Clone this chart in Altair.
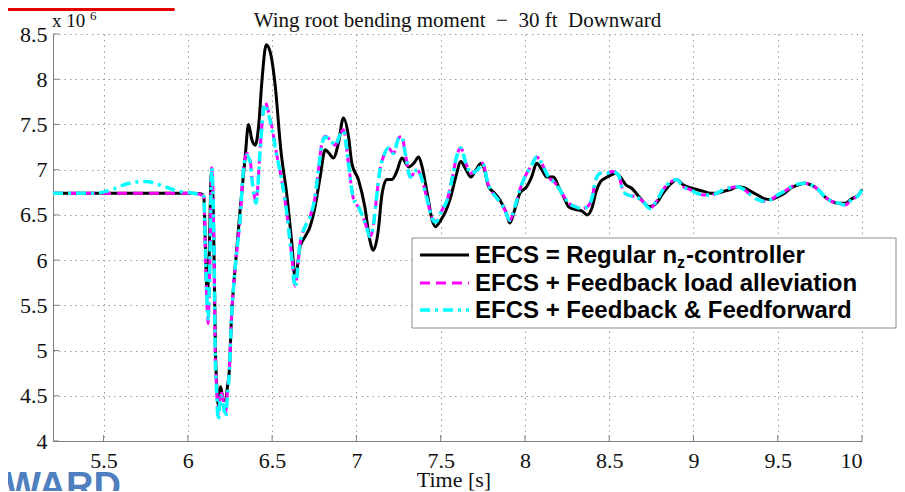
import altair as alt
import pandas as pd

# ---- data (values in units of 10^6) ----
t_black = [5.2, 6.03, 6.08, 6.095, 6.105, 6.115, 6.125, 6.14, 6.152, 6.158, 6.164, 6.172, 6.18, 6.195, 6.21,
           6.225, 6.235, 6.245, 6.26, 6.28, 6.31, 6.34, 6.36, 6.38, 6.40, 6.42, 6.44, 6.465, 6.49, 6.52, 6.55,
           6.59, 6.617, 6.637, 6.666, 6.696, 6.725, 6.755, 6.785, 6.815, 6.834, 6.864, 6.893, 6.923, 6.953,
           6.973, 7.012, 7.05, 7.08, 7.10, 7.13, 7.15, 7.18, 7.21, 7.24, 7.27, 7.31, 7.34, 7.37, 7.39, 7.42,
           7.45, 7.47, 7.50, 7.53, 7.56, 7.59, 7.62, 7.65, 7.68, 7.71, 7.74, 7.755, 7.785, 7.82, 7.85, 7.89,
           7.91, 7.94, 7.97, 8.01, 8.04, 8.07, 8.10, 8.13, 8.17, 8.20, 8.23, 8.26, 8.30, 8.34, 8.37, 8.40,
           8.42, 8.45, 8.48, 8.51, 8.54, 8.57, 8.60, 8.63, 8.66, 8.70, 8.74, 8.78, 8.82, 8.87, 8.90, 8.94,
           8.98, 9.02, 9.06, 9.10, 9.14, 9.18, 9.22, 9.26, 9.30, 9.34, 9.38, 9.42, 9.46, 9.50, 9.54, 9.58,
           9.62, 9.66, 9.70, 9.74, 9.78, 9.82, 9.86, 9.90, 9.94, 9.98, 10.0]
v_black = [6.74, 6.74, 6.73, 6.70, 6.10, 5.60, 5.95, 6.97, 6.45, 5.74, 5.00, 4.60, 4.40, 4.60, 4.45,
           4.45, 4.60, 4.75, 5.40, 5.90, 6.55, 7.14, 7.50, 7.33, 7.27, 7.48, 7.99, 8.38, 8.29, 7.90, 7.25,
           6.68, 6.19, 5.80, 6.15, 6.26, 6.37, 6.59, 6.92, 7.22, 7.19, 7.13, 7.29, 7.57, 7.37,
           7.07, 6.89, 6.59, 6.22, 6.11, 6.33, 6.70, 6.89, 6.89, 6.98, 7.13, 7.03, 7.07, 7.14, 7.03, 6.74,
           6.44, 6.37, 6.44, 6.54, 6.70, 6.92, 7.09, 7.00, 6.92, 7.00, 7.07, 7.03, 6.81, 6.74, 6.67, 6.52,
           6.41, 6.56, 6.74, 6.81, 6.92, 7.07, 7.00, 6.92, 6.92, 6.81, 6.70, 6.59, 6.56, 6.54, 6.50, 6.59,
           6.74, 6.87, 6.91, 6.94, 6.96, 6.91, 6.83, 6.80, 6.74, 6.65, 6.59, 6.63, 6.74, 6.85, 6.89, 6.83,
           6.80, 6.78, 6.76, 6.74, 6.74, 6.76, 6.78, 6.81, 6.80, 6.76, 6.72, 6.68, 6.67, 6.70, 6.74, 6.80,
           6.83, 6.85, 6.83, 6.78, 6.70, 6.65, 6.63, 6.63, 6.68, 6.72, 6.78]

t_mag = [5.2, 6.03, 6.08, 6.095, 6.105, 6.115, 6.12, 6.13, 6.142, 6.152, 6.158, 6.162, 6.172, 6.18, 6.195,
         6.21, 6.225, 6.235, 6.245, 6.26, 6.28, 6.31, 6.33, 6.35, 6.37, 6.38, 6.405, 6.43, 6.45, 6.455, 6.49,
         6.53, 6.557, 6.587, 6.617, 6.637, 6.666, 6.696, 6.725, 6.755, 6.775, 6.795, 6.815, 6.845, 6.874,
         6.904, 6.923, 6.953, 6.98, 7.02, 7.06, 7.08, 7.10, 7.12, 7.14, 7.16, 7.19, 7.22, 7.25, 7.27, 7.29,
         7.32, 7.36, 7.39, 7.42, 7.45, 7.47, 7.51, 7.54, 7.57, 7.60, 7.62, 7.65, 7.68, 7.72, 7.75, 7.78,
         7.81, 7.84, 7.88, 7.91, 7.94, 7.97, 8.00, 8.04, 8.07, 8.10, 8.14, 8.18, 8.22, 8.26, 8.30, 8.34,
         8.37, 8.40, 8.42, 8.45, 8.485, 8.52, 8.555, 8.58, 8.61, 8.66, 8.70, 8.74, 8.78, 8.82, 8.87, 8.90,
         8.94, 8.98, 9.02, 9.06, 9.10, 9.14, 9.18, 9.22, 9.26, 9.30, 9.34, 9.38, 9.42, 9.46, 9.50, 9.54,
         9.58, 9.62, 9.66, 9.70, 9.74, 9.78, 9.82, 9.86, 9.90, 9.94, 9.98, 10.0]
v_mag = [6.74, 6.74, 6.72, 6.70, 6.00, 5.45, 5.30, 5.90, 7.02, 6.48, 5.74, 5.00, 4.55, 4.30, 4.55,
         4.45, 4.32, 4.55, 4.75, 5.40, 5.90, 6.45, 7.00, 7.18, 7.11, 6.92, 6.65, 7.26, 7.70, 7.75, 7.55,
         7.14, 6.89, 6.52, 6.04, 5.71, 6.19, 6.37, 6.48, 6.70, 7.00, 7.29, 7.37, 7.33, 7.27,
         7.40, 7.44, 7.07, 6.70, 6.56, 6.37, 6.26, 6.37, 6.70, 7.00, 7.14, 7.24, 7.18, 7.35, 7.37, 7.18,
         6.92, 7.00, 6.89, 6.67, 6.46, 6.43, 6.56, 6.67, 6.92, 7.18, 7.24, 7.07, 6.96, 7.00, 7.07, 6.85,
         6.74, 6.67, 6.56, 6.44, 6.59, 6.78, 6.92, 7.05, 7.14, 7.07, 6.92, 6.85, 6.74, 6.63, 6.59, 6.57,
         6.59, 6.70, 6.89, 6.96, 6.96, 6.98, 6.94, 6.78, 6.72, 6.70, 6.65, 6.57, 6.65, 6.78, 6.87, 6.89,
         6.81, 6.78, 6.74, 6.72, 6.72, 6.74, 6.78, 6.80, 6.81, 6.78, 6.72, 6.67, 6.65, 6.67, 6.72, 6.76,
         6.81, 6.84, 6.85, 6.83, 6.78, 6.70, 6.65, 6.63, 6.61, 6.67, 6.72, 6.78]

t_cyan = [5.2, 5.45, 5.55, 5.65, 5.75, 5.85, 5.95, 6.03, 6.08, 6.095, 6.105, 6.115, 6.12, 6.13, 6.142,
          6.152, 6.158, 6.162, 6.172, 6.18, 6.195, 6.21, 6.225, 6.235, 6.245, 6.26, 6.28, 6.31, 6.33, 6.35,
          6.37, 6.38, 6.405, 6.43, 6.45, 6.455, 6.49, 6.53, 6.557, 6.587, 6.617, 6.637, 6.666, 6.696, 6.725,
          6.755, 6.775, 6.795, 6.815, 6.845, 6.874, 6.904, 6.923, 6.953, 6.98, 7.02, 7.06, 7.08, 7.10, 7.12,
          7.14, 7.16, 7.19, 7.22, 7.25, 7.27, 7.29, 7.32, 7.36, 7.39, 7.42, 7.45, 7.47, 7.51, 7.54, 7.57,
          7.60, 7.62, 7.65, 7.68, 7.72, 7.75, 7.78, 7.81, 7.84, 7.88, 7.91, 7.94, 7.97, 8.00, 8.04, 8.07,
          8.10, 8.14, 8.18, 8.22, 8.26, 8.30, 8.34, 8.37, 8.40, 8.42, 8.45, 8.485, 8.52, 8.555, 8.58, 8.61,
          8.66, 8.70, 8.74, 8.78, 8.82, 8.87, 8.90, 8.94, 8.98, 9.02, 9.06, 9.10, 9.14, 9.18, 9.22, 9.26,
          9.30, 9.34, 9.38, 9.42, 9.46, 9.50, 9.54, 9.58, 9.62, 9.66, 9.70, 9.74, 9.78, 9.82, 9.86, 9.90,
          9.94, 9.98, 10.0]
v_cyan = [6.74, 6.74, 6.78, 6.85, 6.87, 6.82, 6.76, 6.74, 6.72, 6.70, 6.05, 5.50, 5.35, 5.90, 7.02,
          6.48, 5.74, 5.00, 4.50, 4.23, 4.50, 4.40, 4.27, 4.50, 4.72, 5.38, 5.90, 6.45, 7.00, 7.16,
          7.08, 6.90, 6.63, 7.24, 7.68, 7.72, 7.53, 7.13, 6.89, 6.52, 6.02, 5.70, 6.19, 6.37, 6.48,
          6.70, 7.00, 7.27, 7.36, 7.33, 7.27, 7.39, 7.43, 7.07, 6.70, 6.56, 6.37, 6.26, 6.37, 6.70,
          7.00, 7.14, 7.24, 7.18, 7.34, 7.36, 7.18, 6.92, 7.00, 6.89, 6.67, 6.46, 6.42, 6.56, 6.67, 6.92,
          7.18, 7.24, 7.07, 6.96, 7.00, 7.07, 6.85, 6.74, 6.67, 6.56, 6.44, 6.59, 6.78, 6.92, 7.05, 7.14,
          7.07, 6.92, 6.85, 6.74, 6.63, 6.59, 6.57, 6.59, 6.70, 6.89, 6.96, 6.96, 6.98, 6.94, 6.78, 6.72,
          6.70, 6.65, 6.57, 6.65, 6.78, 6.87, 6.89, 6.81, 6.78, 6.74, 6.72, 6.72, 6.74, 6.78, 6.80, 6.81,
          6.78, 6.72, 6.67, 6.65, 6.67, 6.72, 6.76, 6.81, 6.84, 6.85, 6.83, 6.78, 6.70, 6.65, 6.63, 6.61,
          6.67, 6.72, 6.78]

x_ticks = [5.5, 6, 6.5, 7, 7.5, 8, 8.5, 9, 9.5, 10]
y_ticks = [4, 4.5, 5, 5.5, 6, 6.5, 7, 7.5, 8, 8.5]

legend_labels = ["EFCS = Regular n", "EFCS + Feedback load alleviation", "EFCS + Feedback & Feedforward"]
title_text = "Wing root bending moment\u00a0\u00a0\u2212\u00a0\u00a030 ft\u00a0\u00a0Downward"

# ---- layout ----
W, H = 809, 407
SERIF = "Liberation Serif"
SANS = "Liberation Sans"

xs = alt.Scale(domain=[5.2, 10], nice=False, zero=False)
ys = alt.Scale(domain=[4, 8.5], nice=False, zero=False)

df_b = pd.DataFrame({"t": t_black, "v": v_black})
df_m = pd.DataFrame({"t": t_mag, "v": v_mag})
df_c = pd.DataFrame({"t": t_cyan, "v": v_cyan})

x_axis = alt.Axis(values=x_ticks, format="~g", grid=True, gridDash=[1.5, 4], gridColor="#9a9a9a",
                  ticks=False, tickSize=0, labelPadding=26, labelBaseline="alphabetic",
                  labelFont=SERIF, labelFontSize=22, labelColor="#111", domainColor="#808080",
                  title=None)
y_axis = alt.Axis(values=y_ticks, format="~g", grid=True, gridDash=[1.5, 4], gridColor="#9a9a9a",
                  ticks=False, tickSize=0, labelPadding=6,
                  labelFont=SERIF, labelFontSize=22, labelColor="#111", domainColor="#808080",
                  title=None)

line_b = alt.Chart(df_b).mark_line(color="black", strokeWidth=3, interpolate="monotone").encode(
    x=alt.X("t:Q", scale=xs, axis=x_axis), y=alt.Y("v:Q", scale=ys, axis=y_axis))
line_m = alt.Chart(df_m).mark_line(color="#ff00ff", strokeWidth=3, strokeDash=[10, 6],
                                   interpolate="monotone").encode(
    x=alt.X("t:Q", scale=xs), y=alt.Y("v:Q", scale=ys))
line_c = alt.Chart(df_c).mark_line(color="#00ffff", strokeWidth=3.5, strokeDash=[10, 5, 3, 5],
                                   interpolate="monotone").encode(
    x=alt.X("t:Q", scale=xs), y=alt.Y("v:Q", scale=ys))

# inward ticks
xt = alt.Chart(pd.DataFrame({"t": x_ticks})).mark_rule(color="#808080", strokeWidth=1).encode(
    x=alt.X("t:Q", scale=xs), y=alt.value(H), y2=alt.value(H - 6))
yt = alt.Chart(pd.DataFrame({"v": y_ticks})).mark_rule(color="#808080", strokeWidth=1).encode(
    y=alt.Y("v:Q", scale=ys), x=alt.value(0), x2=alt.value(6))

one = pd.DataFrame({"k": [0]})


def txt(text, x, y, size, font=SERIF, weight="normal", align="left", color="#111", baseline="alphabetic"):
    return alt.Chart(one).mark_text(text=text, font=font, fontSize=size, fontWeight=weight, align=align,
                                    baseline=baseline, color=color).encode(x=alt.value(x), y=alt.value(y))


title = txt(title_text, W / 2, -7, 21, align="center")
exp1 = txt("x 10", -1, -7, 19)
exp2 = txt("6", 37, -14, 13)
xtitle = txt("Time [s]", 401, 453, 22, align="center")

# legend
LX0, LX1, LY0, LY1 = 359, 843, 204, 294
box = alt.Chart(one).mark_rect(fill="white", stroke="#8c8c8c", strokeWidth=1).encode(
    x=alt.value(LX0), x2=alt.value(LX1), y=alt.value(LY0), y2=alt.value(LY1))
rows = [221, 249, 276]
lg1 = alt.Chart(one).mark_rule(color="black", strokeWidth=3).encode(
    x=alt.value(367), x2=alt.value(416), y=alt.value(rows[0]))
lg2 = alt.Chart(one).mark_rule(color="#ff00ff", strokeWidth=3, strokeDash=[10, 6]).encode(
    x=alt.value(367), x2=alt.value(416), y=alt.value(rows[1]))
lg3 = alt.Chart(one).mark_rule(color="#00ffff", strokeWidth=3.5, strokeDash=[10, 5, 3, 5]).encode(
    x=alt.value(367), x2=alt.value(416), y=alt.value(rows[2]))
LT = 422
FS = 24
t1 = txt(legend_labels[0], LT, rows[0] + 8, FS, font=SANS, weight="bold", color="black")
sub_x = LT + 8.419 * FS
t1z = txt("z", sub_x, rows[0] + 13, 16, font=SANS, weight="bold", color="black")
t1c = txt("-controller", sub_x + 9, rows[0] + 8, FS, font=SANS, weight="bold", color="black")
t2 = txt(legend_labels[1], LT, rows[1] + 8, FS, font=SANS, weight="bold", color="black")
t3 = txt(legend_labels[2], LT, rows[2] + 8, FS, font=SANS, weight="bold", color="black")

# page decorations seen in the reference
redbar = alt.Chart(one).mark_rect(color="#e80000", cornerRadiusBottomRight=3, cornerRadiusTopRight=3).encode(
    x=alt.value(-60), x2=alt.value(122), y=alt.value(-26), y2=alt.value(-23))
ward = txt("WARD", 68, 465, 38, font=SANS, weight="bold", align="right", color="#4f7fbf")

chart = alt.layer(
    line_b, line_m, line_c, xt, yt, title, exp1, exp2, xtitle,
    box, lg1, lg2, lg3, t1, t1z, t1c, t2, t3, redbar, ward
).properties(
    width=W, height=H,
    padding={"left": 45, "top": 26, "right": 35, "bottom": 50},
    autosize=alt.AutoSizeParams(type="none"),
    background="white",
).configure_view(strokeWidth=0)

chart.save("out.html", embed_options={"renderer": "svg", "actions": False})
